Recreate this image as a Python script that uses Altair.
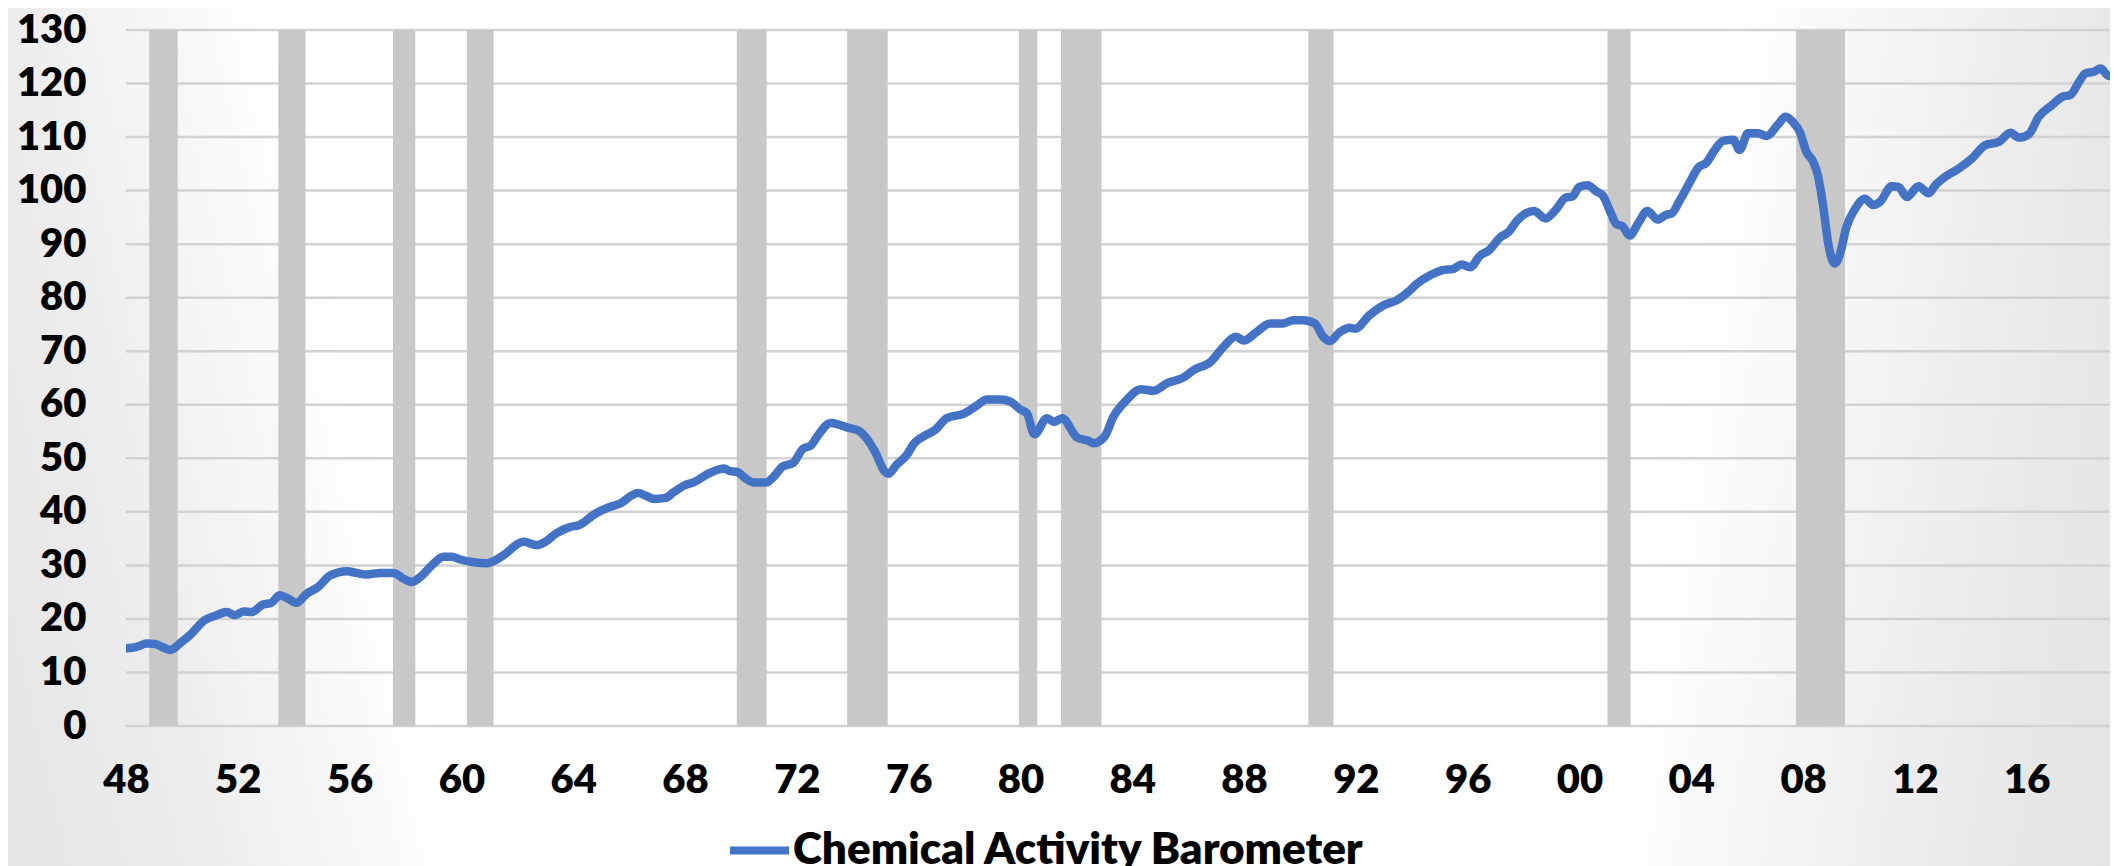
import json
import altair as alt
import pandas as pd

# ---------------- data ----------------
years = [1948.0, 1948.38, 1948.74, 1949.04, 1949.28, 1949.57, 1949.99, 1950.29, 1950.82, 1951.24,
         1951.6, 1951.9, 1952.2, 1952.5, 1952.9, 1953.2, 1953.5, 1953.8, 1954.1, 1954.46,
         1954.88, 1955.3, 1955.9, 1956.25, 1956.6, 1957.1, 1957.57, 1957.93, 1958.22, 1958.52,
         1958.94, 1959.36, 1959.66, 1959.96, 1960.43, 1960.91, 1961.15, 1961.63, 1961.95, 1962.22,
         1962.7, 1963.0, 1963.4, 1963.9, 1964.2, 1964.8, 1965.3, 1965.7, 1966.1, 1966.33,
         1966.6, 1966.9, 1967.3, 1967.6, 1968.0, 1968.3, 1968.9, 1969.4, 1969.6, 1969.85,
         1970.15, 1970.45, 1970.9, 1971.16, 1971.5, 1971.86, 1972.22, 1972.5, 1972.8, 1973.2,
         1973.5, 1973.83, 1974.2, 1974.5, 1974.8, 1975.15, 1975.27, 1975.57, 1975.93, 1976.2,
         1976.5, 1976.95, 1977.36, 1978.0, 1978.45, 1978.8, 1979.28, 1979.64, 1980.0, 1980.23,
         1980.5, 1980.95, 1981.2, 1981.5, 1982.0, 1982.5, 1982.6, 1983.0, 1983.33, 1983.8,
         1984.3, 1984.76, 1985.24, 1985.84, 1986.2, 1986.8, 1987.26, 1987.7, 1988.0, 1988.45,
         1988.93, 1989.4, 1989.76, 1990.12, 1990.53, 1990.83, 1991.07, 1991.43, 1991.79, 1991.97,
         1992.5, 1993.04, 1993.46, 1993.88, 1994.18, 1994.66, 1995.07, 1995.49, 1995.79, 1996.09,
         1996.45, 1996.75, 1997.17, 1997.47, 1997.77, 1998.37, 1998.79, 1999.15, 1999.51, 1999.75,
         1999.99, 2000.29, 2000.59, 2000.83, 2001.13, 2001.31, 2001.55, 2001.79, 2002.09, 2002.43,
         2002.79, 2003.11, 2003.29, 2003.59, 2003.95, 2004.25, 2004.54, 2004.84, 2005.14, 2005.5,
         2005.73, 2006.03, 2006.39, 2006.69, 2007.11, 2007.37, 2007.7, 2007.88, 2008.12, 2008.36,
         2008.54, 2008.72, 2008.9, 2009.13, 2009.31, 2009.55, 2009.85, 2010.21, 2010.51, 2010.75,
         2011.17, 2011.41, 2011.71, 2012.13, 2012.49, 2012.73, 2013.09, 2013.56, 2014.04, 2014.52,
         2015.0, 2015.42, 2015.72, 2016.07, 2016.43, 2016.91, 2017.27, 2017.57, 2017.87, 2018.1,
         2018.4, 2018.64, 2018.94, 2019.3]
values = [14.5, 14.8, 15.4, 15.3, 14.8, 14.2, 15.7, 17.0, 19.8, 20.7,
          21.3, 20.7, 21.4, 21.3, 22.7, 23.0, 24.4, 23.8, 23.0, 24.7,
          26.0, 28.1, 28.9, 28.6, 28.3, 28.6, 28.6, 27.5, 26.9, 27.8,
          30.0, 31.6, 31.6, 31.1, 30.6, 30.4, 30.8, 32.4, 33.8, 34.4,
          33.8, 34.4, 36.0, 37.2, 37.5, 39.7, 40.9, 41.6, 43.1, 43.5,
          43.0, 42.4, 42.6, 43.7, 45.0, 45.5, 47.3, 48.1, 47.6, 47.5,
          46.3, 45.5, 45.5, 46.5, 48.5, 49.1, 51.8, 52.4, 54.6, 56.6,
          56.3, 55.7, 55.2, 53.7, 51.2, 47.5, 47.1, 48.8, 50.6, 52.8,
          54.0, 55.3, 57.5, 58.4, 59.9, 61.0, 61.0, 60.6, 59.1, 58.4,
          54.5, 57.5, 56.8, 57.5, 54.0, 53.1, 52.8, 54.0, 57.8, 60.9,
          62.9, 62.6, 64.0, 65.1, 66.5, 68.0, 70.8, 72.7, 72.0, 73.6,
          75.2, 75.2, 75.8, 75.8, 75.2, 72.7, 71.9, 73.6, 74.4, 74.2,
          76.8, 78.7, 79.5, 81.1, 82.6, 84.2, 85.1, 85.4, 86.2, 85.7,
          87.9, 88.8, 91.3, 92.3, 94.4, 96.2, 94.8, 96.4, 98.7, 98.9,
          100.7, 101.0, 99.9, 99.1, 95.7, 93.8, 93.3, 91.6, 93.8, 96.2,
          94.6, 95.5, 95.7, 98.2, 101.6, 104.3, 105.2, 107.6, 109.3, 109.5,
          107.6, 110.7, 110.7, 110.2, 112.4, 113.8, 112.4, 111.0, 107.2, 105.4,
          102.6, 97.0, 90.1, 86.4, 88.0, 93.2, 96.5, 98.5, 97.3, 97.9,
          100.8, 100.7, 98.8, 100.8, 99.5, 101.0, 102.6, 104.1, 106.0, 108.5,
          109.1, 110.8, 109.9, 110.5, 113.8, 116.0, 117.5, 117.9, 120.3, 121.9,
          122.2, 122.8, 121.4, 122.7]

# recession bands (fractional years)
rec_start = [1948.83, 1953.45, 1957.55, 1960.2, 1969.85, 1973.8, 1979.95, 1981.45, 1990.3, 2001.0, 2007.75]
rec_end = [1949.85, 1954.42, 1958.35, 1961.15, 1970.92, 1975.25, 1980.6, 1982.9, 1991.2, 2001.83, 2009.5]

x_ticks = list(range(1948, 2017, 4))
x_labels = ["48", "52", "56", "60", "64", "68", "72", "76", "80", "84",
            "88", "92", "96", "00", "04", "08", "12", "16"]
y_ticks = list(range(0, 131, 10))
series_name = "Chemical Activity Barometer"

# ---------------- layout / style ----------------
W, H = 1984, 696
PAD = {"left": 118, "top": 22, "right": 0, "bottom": 140}
X_MIN, X_MAX = 1948, 2018.98
FONT = "Lato"
WEIGHT = 800
LINE_COLOR = "#4472C4"
BAND_COLOR = "#C8C8C8"
GRID_COLOR = "#D2D2D2"

line_df = pd.DataFrame({"year": years, "value": values, "series": series_name})
rec_df = pd.DataFrame({"start": rec_start, "end": rec_end})
grid_df = pd.DataFrame({"v": y_ticks})
one = pd.DataFrame({"k": [0]})

xscale = alt.Scale(domain=[X_MIN, X_MAX], nice=False, zero=False)
yscale = alt.Scale(domain=[0, 130], nice=False)

label_expr = f"{json.dumps(x_labels)}[indexof({json.dumps(x_ticks)}, datum.value)]"

x_axis = alt.Axis(values=x_ticks, labelExpr=label_expr, grid=False, domain=False, ticks=False,
                  tickSize=0, labelPadding=34, labelFlush=False, labelOverlap=False,
                  labelFont=FONT, labelFontSize=40, labelFontWeight=WEIGHT, labelColor="#000000",
                  title=None, zindex=2)
y_axis = alt.Axis(values=y_ticks, format="d", grid=False, domain=False, ticks=False, tickSize=0,
                  labelPadding=40, labelOverlap=False, labelFont=FONT, labelFontSize=40,
                  labelFontWeight=WEIGHT, labelColor="#000000", title=None, zindex=2)

# slide-like background gradients (left and right sides)
bg_left = alt.Chart(one).mark_rect(
    fill={"gradient": "linear", "x1": -0.05, "y1": 0.6, "x2": 0.95, "y2": 0.314,
          "stops": [{"offset": 0, "color": "#E6E6E6"}, {"offset": 0.2, "color": "#ECECEC"},
                    {"offset": 0.56, "color": "#FFFFFF"}, {"offset": 1, "color": "#FFFFFF"}]}
).encode(x=alt.value(-126), x2=alt.value(574), y=alt.value(-30), y2=alt.value(850))

bg_right = alt.Chart(one).mark_rect(
    fill={"gradient": "linear", "x1": 0.3, "y1": 0.45, "x2": 1.3, "y2": 0.61,
          "stops": [{"offset": 0, "color": "#FFFFFF"}, {"offset": 0.14, "color": "#FFFFFF"},
                    {"offset": 0.6, "color": "#E8E8E8"}, {"offset": 0.8, "color": "#E2E2E2"},
                    {"offset": 1, "color": "#DDDDDD"}]}
).encode(x=alt.value(1174), x2=alt.value(2004), y=alt.value(-30), y2=alt.value(850))

grid = alt.Chart(grid_df).mark_rule(color=GRID_COLOR, strokeWidth=2.5).encode(
    y=alt.Y("v:Q", scale=yscale, axis=y_axis)
)

bands = alt.Chart(rec_df).mark_rect(color=BAND_COLOR).encode(
    x=alt.X("start:Q", scale=xscale, axis=x_axis),
    x2="end:Q",
    y=alt.datum(0),
    y2=alt.datum(130),
)

line = alt.Chart(line_df).mark_line(
    strokeWidth=8.5, interpolate="monotone", strokeCap="round", strokeJoin="round", clip=True
).encode(
    x=alt.X("year:Q", scale=xscale, axis=x_axis),
    y=alt.Y("value:Q", scale=yscale, axis=y_axis),
    color=alt.Color("series:N",
                    scale=alt.Scale(domain=[series_name], range=[LINE_COLOR]),
                    legend=alt.Legend(orient="none", legendX=600, legendY=787, title=None,
                                      direction="horizontal", symbolType="stroke",
                                      symbolSize=3481, symbolStrokeWidth=8, labelOffset=0,
                                      labelLimit=2000,
                                      labelFont=FONT, labelFontSize=44, labelFontWeight=WEIGHT,
                                      labelColor="#000000", padding=0, zindex=2)),
)

chart = alt.layer(bg_left, bg_right, grid, bands, line).properties(
    width=W, height=H, padding=PAD, autosize=alt.AutoSizeParams(type="none"),
    background="white"
).configure_view(stroke=None)

chart.save("out.html", embed_options={"renderer": "svg", "actions": False})
